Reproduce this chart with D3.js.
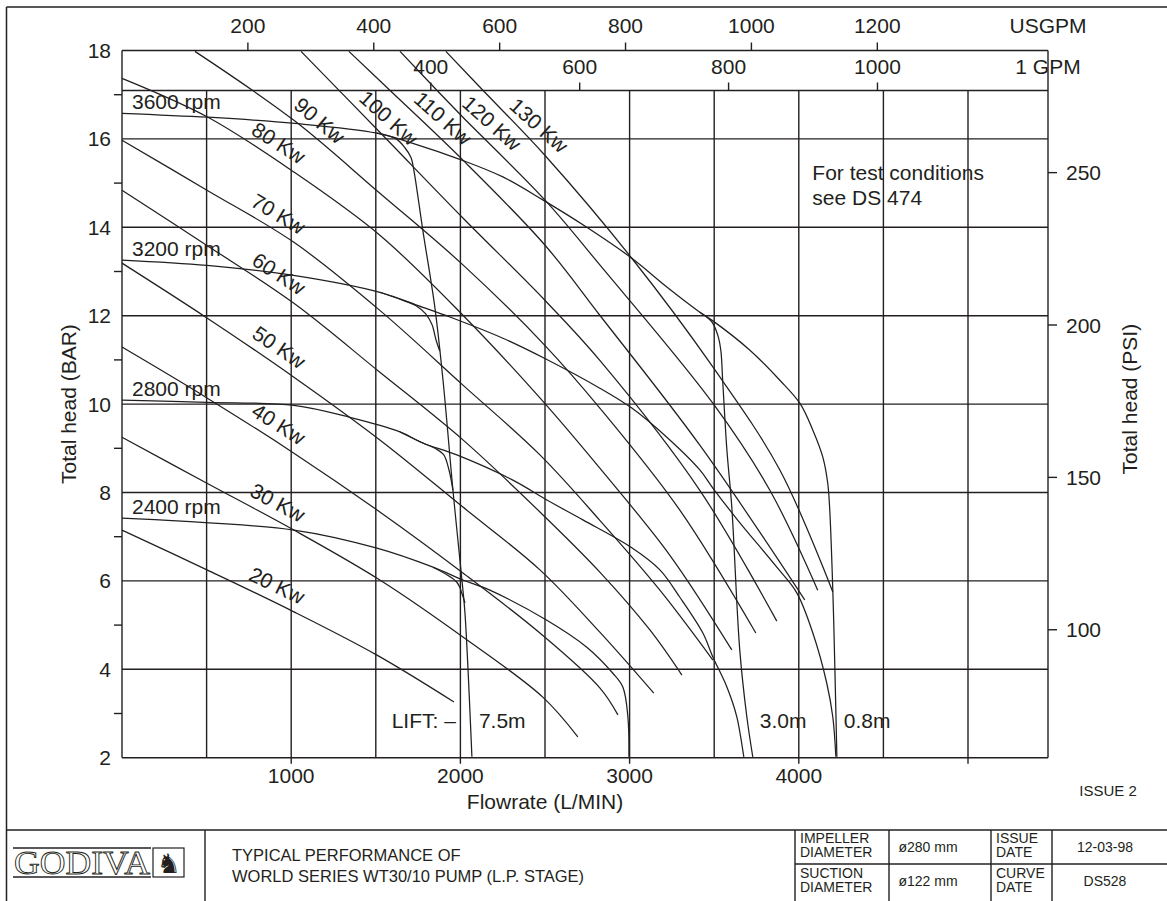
<!DOCTYPE html>
<html><head><meta charset="utf-8">
<script src="https://cdnjs.cloudflare.com/ajax/libs/d3/7.8.5/d3.min.js"></script>
<style>
body{margin:0;background:#fff}
svg{display:block}
text{font-family:"Liberation Sans",Arial,Helvetica,sans-serif;fill:#231f20}
</style></head><body>
<svg id="chart" width="1167" height="901"></svg>
<script>
// ---------- axis values ----------
const flowGrid = [500,1000,1500,2000,2500,3000,3500,4000,4500,5000];
const flowTicks = [1000,2000,3000,4000,5000];
const flowTickLabels = ["1000","2000","3000","4000",""];
const barTicks = [2,4,6,8,10,12,14,16,18];
const barMinor = [3,5,7,9,11,13,15,17];
const barGrid = [4,6,8,10,12,14,16];
const psiTicks = [100,150,200,250];
const usgpmTicks = [200,400,600,800,1000,1200];
const igpmTicks = [400,600,800,1000];

// ---------- speed (head) curves : [flow L/min, head bar] ----------
const speedLabels = ["3600 rpm","3200 rpm","2800 rpm","2400 rpm"];
const rpm3600 = [[0,16.58],[508,16.49],[1022,16.35],[1507,16.13],[1719,15.9],[2009,15.52],[2251,15.14],[2487,14.62],[2747,14.0],[3013,13.3],[3220,12.65],[3415,12.08],[3486,11.9],[3711,11.22],[3888,10.54],[4006,10.02],[4083,9.41],[4142,8.8],[4171,8.21],[4183,7.6],[4201,5.79],[4213,4.05],[4225,2.02]];
const rpm3200 = [[0,13.26],[502,13.14],[1004,12.92],[1524,12.53],[1778,12.19],[1938,11.97],[2251,11.49],[2505,11.02],[2824,10.36],[3013,9.91],[3220,9.25],[3415,8.51],[3492,8.1],[3634,7.4],[3870,6.31],[3988,5.73],[4083,4.82],[4165,3.69],[4201,2.92],[4219,2.02]];
const rpm2800 = [[0,10.09],[502,10.04],[1016,9.97],[1347,9.7],[1643,9.37],[1778,9.12],[1979,8.85],[2310,8.28],[2511,7.83],[2724,7.38],[3013,6.75],[3179,6.25],[3297,5.63],[3433,4.82],[3492,4.28],[3575,3.6],[3634,2.92],[3675,2.02]];
const rpm2400 = [[0,7.42],[1016,7.15],[1507,6.74],[1838,6.31],[2015,6.02],[2174,5.79],[2511,5.11],[2747,4.5],[2901,3.91],[2960,3.6],[2990,2.92],[2996,2.02]];

// ---------- suction-lift limit curves ----------
const liftLabels = ["7.5m","3.0m","0.8m"];
const lift75 = [[1507,16.13],[1620,16.0],[1672,15.8],[1708,15.58],[1725,15.29],[1778,13.93],[1849,12.19],[1897,10.55],[1956,8.05],[2009,6.02],[2027,5.27],[2068,2.02]];
const lift30 = [[3415,12.08],[3486,11.86],[3521,11.56],[3539,11.22],[3551,10.47],[3575,8.96],[3604,7.67],[3651,4.44],[3693,2.92],[3728,2.02]];
const knee3200 = [[1524,12.53],[1650,12.36],[1740,12.22],[1795,12.04],[1832,11.8],[1856,11.45],[1878,11.2]];
const knee2800 = [[1643,9.37],[1778,9.12],[1850,9.0],[1900,8.86],[1932,8.52],[1956,8.05]];
const knee2400 = [[1838,6.31],[1979,5.97],[2012,5.68],[2027,5.5]];

// ---------- power curves ----------
const powerLabels = ["20 Kw","30 Kw","40 Kw","50 Kw","60 Kw","70 Kw","80 Kw","90 Kw","100 Kw","110 Kw","120 Kw","130 Kw"];
const kw20 = [[0,7.15],[502,6.25],[1016,5.3],[1507,4.32],[1962,3.26]];
const kw30 = [[0,9.25],[502,8.21],[1016,7.15],[1524,6.02],[2015,4.73],[2487,3.37],[2694,2.47]];
const kw40 = [[0,11.29],[502,10.14],[1016,8.89],[1524,7.56],[2015,6.18],[2470,4.82],[2824,3.58],[2931,2.97]];
const kw50 = [[0,13.19],[502,11.95],[1016,10.61],[1524,9.19],[2015,7.67],[2470,6.25],[2824,4.84],[3143,3.46]];
const kw60 = [[0,14.84],[502,13.59],[1016,12.28],[1524,10.72],[2015,9.19],[2470,7.56],[2824,6.2],[3120,4.89],[3309,3.87]];
const kw70 = [[0,15.97],[502,14.84],[1016,13.66],[1524,12.12],[2015,10.43],[2470,8.85],[2824,7.37],[3179,5.79],[3492,4.21]];
const kw80 = [[0,17.37],[508,16.49],[1016,15.25],[1524,13.82],[2015,12.01],[2470,10.14],[2824,8.55],[3238,6.58],[3604,4.44]];
const kw90 = [[431,17.98],[1016,16.42],[1524,14.77],[2015,13.15],[2499,11.33],[2824,9.91],[3297,7.6],[3746,4.82]];
const kw100 = [[1058,17.98],[1524,16.15],[2015,14.21],[2499,12.35],[2824,10.99],[3415,8.05],[3870,5.09]];
const kw110 = [[1341,17.98],[1583,17.1],[2015,15.52],[2499,13.6],[2824,12.01],[3415,9.07],[4035,5.57]];
const kw120 = [[1643,17.98],[1861,17.1],[2015,16.49],[2499,14.62],[2824,13.15],[3492,10.02],[3829,8.05],[4112,5.79]];
const kw130 = [[1914,17.98],[2133,17.1],[2499,15.63],[3013,13.3],[3492,10.84],[3888,8.51],[4201,5.75]];
const powerLabelFlow = [874,874,874,874,874,874,874,1105,1512,1832,2121,2399];

// ---------- layout ----------
const svg = d3.select("#chart");
const ink = "#231f20";
const FS = 21;
const x = d3.scaleLinear().domain([0,5000]).range([122,968]);
const y = d3.scaleLinear().domain([2,18]).range([757.7,50.5]);
const xR = 1048;                 // right frame of the grid
const yG = y(18) + 40;           // imperial GPM axis line
const usgpm = d3.scaleLinear().domain([0,1200]).range([x(0), x(1200*3.72)]);
const igpm = d3.scaleLinear().domain([0,1000]).range([x(65), x(65+1000*4.40)]);
const psiY = p => y(p/14.5038 - 2);

// outer frame
svg.append("line").attr("x1",6.5).attr("x2",1167).attr("y1",7).attr("y2",7).attr("stroke",ink).attr("stroke-width",1.5);
svg.append("line").attr("x1",6.5).attr("x2",6.5).attr("y1",7).attr("y2",901).attr("stroke",ink).attr("stroke-width",1.5);
svg.append("line").attr("x1",6.5).attr("x2",1167).attr("y1",830).attr("y2",830).attr("stroke",ink).attr("stroke-width",1.5);

const g = svg.append("g");
function ln(x1,y1,x2,y2,w){g.append("line").attr("x1",x1).attr("y1",y1).attr("x2",x2).attr("y2",y2).attr("stroke",ink).attr("stroke-width",w||1.4);}

// grid
barGrid.forEach(b=>ln(x(0),y(b),xR,y(b)));
flowGrid.forEach(f=>ln(x(f),yG,x(f),y(2)+(flowTicks.includes(f)?6:0)));
// frame
ln(x(0),y(18),xR,y(18)); ln(x(0),yG,xR,yG);
ln(x(0),y(18),x(0),y(2)); ln(x(0),y(2),xR,y(2)); ln(xR,y(18),xR,y(2));

// left axis
barMinor.forEach(b=>ln(x(0)-8,y(b),x(0),y(b)));
g.selectAll(".bl").data(barTicks).join("text").attr("x",111).attr("y",d=>y(d)).attr("dy","0.36em")
  .attr("text-anchor","end").attr("font-size",FS).text(d=>d);
// right axis (psi)
psiTicks.forEach(p=>ln(xR,psiY(p),xR+9,psiY(p)));
g.selectAll(".pl").data(psiTicks).join("text").attr("x",1066).attr("y",d=>psiY(d)).attr("dy","0.36em")
  .attr("font-size",FS).text(d=>d);
// bottom axis
g.selectAll(".fl").data(flowTicks).join("text").attr("x",d=>x(d)).attr("y",y(2)+25)
  .attr("text-anchor","middle").attr("font-size",FS).text((d,i)=>flowTickLabels[i]);
// top axes
usgpmTicks.forEach(u=>ln(usgpm(u),y(18)-8,usgpm(u),y(18)));
g.selectAll(".ul").data(usgpmTicks).join("text").attr("x",d=>usgpm(d)).attr("y",y(18)-18)
  .attr("text-anchor","middle").attr("font-size",FS).text(d=>d);
igpmTicks.forEach(u=>ln(igpm(u),yG-8,igpm(u),yG));
g.selectAll(".il").data(igpmTicks).join("text").attr("x",d=>igpm(d)).attr("y",yG-17)
  .attr("text-anchor","middle").attr("font-size",FS).text(d=>d);
g.append("text").attr("x",xR).attr("y",y(18)-18).attr("text-anchor","middle").attr("font-size",FS).text("USGPM");
g.append("text").attr("x",xR).attr("y",yG-17).attr("text-anchor","middle").attr("font-size",FS).text("1 GPM");

// axis titles
g.append("text").attr("transform",`translate(76,${y(10)}) rotate(-90)`).attr("text-anchor","middle").attr("font-size",FS).text("Total head (BAR)");
g.append("text").attr("transform",`translate(1137,${y(10)-5}) rotate(-90)`).attr("text-anchor","middle").attr("font-size",FS).text("Total head (PSI)");
g.append("text").attr("x",x(2500)).attr("y",y(2)+51).attr("text-anchor","middle").attr("font-size",FS).text("Flowrate (L/MIN)");
g.append("text").attr("x",1108).attr("y",796).attr("text-anchor","middle").attr("font-size",15).text("ISSUE 2");

// curves
const line = d3.line().x(d=>x(d[0])).y(d=>y(d[1])).curve(d3.curveCatmullRom.alpha(0.5));
const cg = svg.append("g").attr("fill","none").attr("stroke",ink).attr("stroke-width",1.25);
const kwCurves = [kw20,kw30,kw40,kw50,kw60,kw70,kw80,kw90,kw100,kw110,kw120,kw130];
kwCurves.forEach(c=>cg.append("path").attr("d",line(c)));
[rpm3600,rpm3200,rpm2800,rpm2400,lift75,lift30,knee3200,knee2800,knee2400].forEach(c=>cg.append("path").attr("d",line(c)));

// speed labels
[rpm3600,rpm3200,rpm2800,rpm2400].forEach((c,i)=>{
  svg.append("text").attr("x",x(0)+10).attr("y",y(c[0][1])-4).attr("font-size",FS).text(speedLabels[i]);
});

// power labels (along curve)
function at(c,q){
  for(let i=0;i<c.length-1;i++){
    if(q>=c[i][0]&&q<=c[i+1][0]){
      const t=(q-c[i][0])/(c[i+1][0]-c[i][0]);
      const ang=Math.atan2(y(c[i+1][1])-y(c[i][1]),x(c[i+1][0])-x(c[i][0]))*180/Math.PI;
      return {h:c[i][1]+t*(c[i+1][1]-c[i][1]),ang};
    }
  }
  return {h:c[0][1],ang:35};
}
kwCurves.forEach((c,i)=>{
  const q=powerLabelFlow[i]; const p=at(c,q);
  svg.append("text").attr("transform",`translate(${x(q)},${y(p.h)}) rotate(${Math.min(p.ang,42)})`)
    .attr("y",-9).attr("text-anchor","middle").attr("font-size",FS).text(powerLabels[i]);
});

// lift labels
svg.append("text").attr("x",x(lift75[lift75.length-1][0])-16).attr("y",y(2)-30).attr("text-anchor","end").attr("font-size",FS).text("LIFT: \u2013");
[lift75,lift30,rpm3600].forEach((c,i)=>{
  svg.append("text").attr("x",x(c[c.length-1][0])+7).attr("y",y(2)-30).attr("font-size",FS).text(liftLabels[i]);
});

// note
svg.append("text").attr("x",x(4080)).attr("y",180).attr("font-size",FS).text("For test conditions");
svg.append("text").attr("x",x(4080)).attr("y",205).attr("font-size",FS).text("see DS 474");

// ---------- title block ----------
const tb = svg.append("g");
function tl(x1,y1,x2,y2){tb.append("line").attr("x1",x1).attr("y1",y1).attr("x2",x2).attr("y2",y2).attr("stroke",ink).attr("stroke-width",1.4);}
tl(205,830,205,901);
tl(795,830,795,901); tl(889,830,889,901); tl(991,830,991,901); tl(1052,830,1052,901);
tl(795,864,1167,864);
const cells = [
  {x:800,y:843,t:"IMPELLER"},{x:800,y:857,t:"DIAMETER"},
  {x:800,y:878,t:"SUCTION"},{x:800,y:892,t:"DIAMETER"},
  {x:996,y:843,t:"ISSUE"},{x:996,y:857,t:"DATE"},
  {x:996,y:878,t:"CURVE"},{x:996,y:892,t:"DATE"}];
cells.forEach(c=>tb.append("text").attr("x",c.x).attr("y",c.y).attr("font-size",14).text(c.t));
[{x:928,y:852,t:"\u00f8280 mm"},{x:928,y:886,t:"\u00f8122 mm"},{x:1105,y:852,t:"12-03-98"},{x:1105,y:886,t:"DS528"}]
  .forEach(c=>tb.append("text").attr("x",c.x).attr("y",c.y).attr("text-anchor","middle").attr("font-size",14).text(c.t));
tb.append("text").attr("x",232).attr("y",861).attr("font-size",16.5).text("TYPICAL PERFORMANCE OF");
tb.append("text").attr("x",232).attr("y",882).attr("font-size",16.5).text("WORLD SERIES WT30/10 PUMP (L.P. STAGE)");
// logo
tl(13,848,151,848); tl(13,877,151,877);
tb.append("text").attr("x",14).attr("y",874).attr("font-size",34).attr("textLength",136).attr("lengthAdjust","spacingAndGlyphs")
  .style("font-family","'Liberation Serif','Times New Roman',serif").style("fill","#fff").attr("stroke",ink).attr("stroke-width",0.9).text("GODIVA");
tb.append("rect").attr("x",153).attr("y",848).attr("width",31).attr("height",29).attr("fill","#fff").attr("stroke",ink).attr("stroke-width",1.2);
tb.append("text").attr("x",168.5).attr("y",873).attr("text-anchor","middle").attr("font-size",27).style("font-family","'DejaVu Sans'").text("\u265E");
</script></body></html>
